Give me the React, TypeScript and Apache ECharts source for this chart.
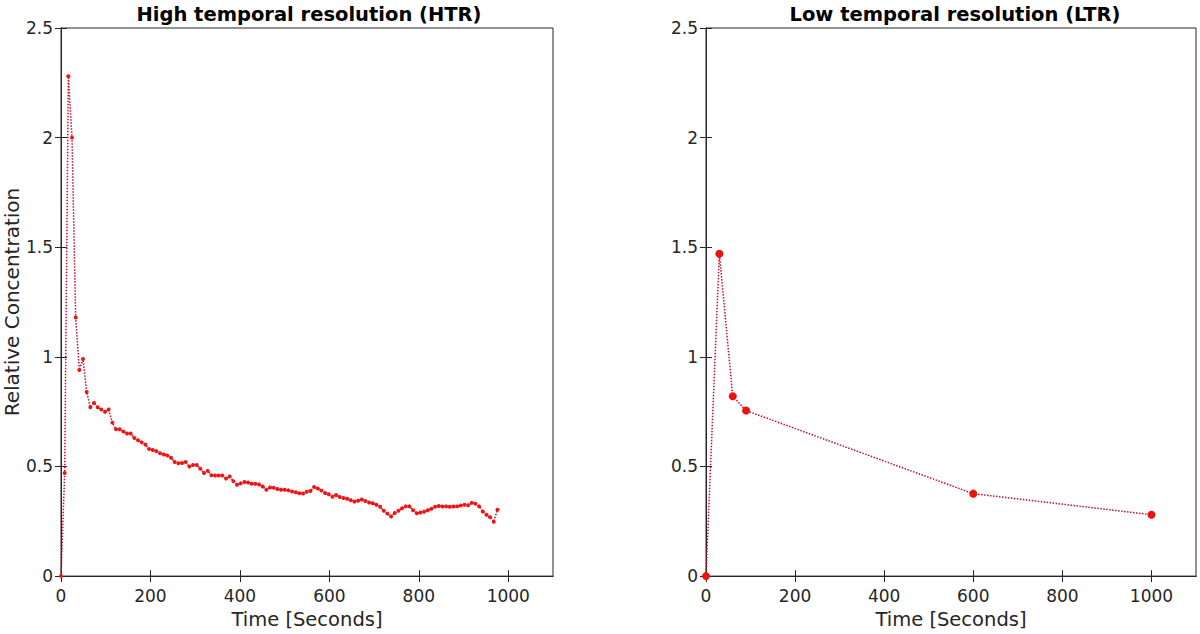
import React, { useEffect, useRef } from "react";
import * as echarts from "echarts";

// High temporal resolution (HTR) samples
const htrTime = [
  0, 8.2, 16.4, 24.6, 32.8, 41, 49.2, 57.4, 65.6, 73.8,
  82, 90.2, 98.4, 106.6, 114.8, 123, 131.2, 139.4, 147.6, 155.8,
  164, 172.2, 180.4, 188.6, 196.8, 205, 213.2, 221.4, 229.6, 237.8,
  246, 254.2, 262.4, 270.6, 278.8, 287, 295.2, 303.4, 311.6, 319.8,
  328, 336.2, 344.4, 352.6, 360.8, 369, 377.2, 385.4, 393.6, 401.8,
  410, 418.2, 426.4, 434.6, 442.8, 451, 459.2, 467.4, 475.6, 483.8,
  492, 500.2, 508.4, 516.6, 524.8, 533, 541.2, 549.4, 557.6, 565.8,
  574, 582.2, 590.4, 598.6, 606.8, 615, 623.2, 631.4, 639.6, 647.8,
  656, 664.2, 672.4, 680.6, 688.8, 697, 705.2, 713.4, 721.6, 729.8,
  738, 746.2, 754.4, 762.6, 770.8, 779, 787.2, 795.4, 803.6, 811.8,
  820, 828.2, 836.4, 844.6, 852.8, 861, 869.2, 877.4, 885.6, 893.8,
  902, 910.2, 918.4, 926.6, 934.8, 943, 951.2, 959.4, 967.6, 975.8,
];
const htrConc = [
  0, 0.47, 2.28, 2.0, 1.18, 0.94, 0.99, 0.84, 0.77, 0.79,
  0.77, 0.76, 0.75, 0.76, 0.7, 0.67, 0.67, 0.66, 0.65, 0.65,
  0.63, 0.62, 0.61, 0.6, 0.58, 0.575, 0.57, 0.56, 0.555, 0.55,
  0.54, 0.52, 0.515, 0.516, 0.52, 0.5, 0.507, 0.507, 0.49, 0.47,
  0.48, 0.46, 0.459, 0.459, 0.459, 0.445, 0.454, 0.433, 0.417, 0.423,
  0.429, 0.427, 0.421, 0.421, 0.418, 0.409, 0.394, 0.404, 0.403, 0.397,
  0.394, 0.394, 0.391, 0.386, 0.382, 0.378, 0.377, 0.385, 0.388, 0.406,
  0.4, 0.39, 0.379, 0.373, 0.362, 0.37, 0.361, 0.356, 0.353, 0.346,
  0.34, 0.344, 0.349, 0.343, 0.336, 0.332, 0.325, 0.316, 0.298, 0.285,
  0.272, 0.288, 0.298, 0.309, 0.318, 0.318, 0.3, 0.287, 0.29, 0.294,
  0.3, 0.307, 0.316, 0.32, 0.317, 0.318, 0.316, 0.317, 0.318, 0.322,
  0.325, 0.323, 0.334, 0.33, 0.318, 0.295, 0.28, 0.268, 0.248, 0.303,
];

// Low temporal resolution (LTR) samples
const ltrTime = [0, 30, 60, 90, 600, 1000];
const ltrConc = [0, 1.47, 0.82, 0.755, 0.376, 0.28];

const xTicks = [0, 200, 400, 600, 800, 1000];
const yTicks = [0, 0.5, 1, 1.5, 2, 2.5];

const titles = ["High temporal resolution (HTR)", "Low temporal resolution (LTR)"];
const xName = "Time [Seconds]";
const yName = "Relative Concentration";

const FONT = "DejaVu Sans";
const AX = "#262626";

export default function App() {
  const ref = useRef<HTMLDivElement>(null);
  useEffect(() => {
    if (!ref.current) return;
    const chart = echarts.init(ref.current, null, { renderer: "svg" });

    const grids = [
      { left: 61, top: 28, width: 492, height: 551 },
      { left: 706, top: 28, width: 490, height: 551 },
    ];

    const xAxes: any[] = [];
    const yAxes: any[] = [];
    grids.forEach((_, gi) => {
      const base = {
        gridIndex: gi,
        type: "value",
        min: 0,
        max: 1100,
        interval: 200,
        splitLine: { show: false },
        axisLine: { show: true, lineStyle: { color: AX, width: 1 } },
        axisTick: {
          show: true,
          inside: true,
          length: 6,
          customValues: xTicks,
          lineStyle: { color: AX },
        },
      };
      xAxes.push({
        ...base,
        position: "bottom",
        name: xName,
        nameLocation: "middle",
        nameGap: 31,
        nameTextStyle: { fontFamily: FONT, fontSize: 19.5, color: AX },
        axisLabel: {
          show: true,
          fontFamily: FONT,
          fontSize: 17,
          color: AX,
          margin: 11,
          customValues: xTicks,
          formatter: (v: number) => String(v),
        },
      });
      xAxes.push({
        ...base,
        position: "top",
        axisLabel: { show: false },
      });
      const ybase = {
        gridIndex: gi,
        type: "value",
        min: 0,
        max: 2.5,
        interval: 0.5,
        splitLine: { show: false },
        axisLine: { show: true, lineStyle: { color: AX, width: 1 } },
        axisTick: {
          show: true,
          inside: true,
          length: 6,
          customValues: yTicks,
          lineStyle: { color: AX },
        },
      };
      yAxes.push({
        ...ybase,
        position: "left",
        name: gi === 0 ? yName : "",
        nameLocation: "middle",
        nameGap: 37,
        nameTextStyle: { fontFamily: FONT, fontSize: 20, color: AX },
        axisLabel: {
          show: true,
          fontFamily: FONT,
          fontSize: 17,
          color: AX,
          margin: 8,
          customValues: yTicks,
          formatter: (v: number) => String(v),
        },
      });
      yAxes.push({
        ...ybase,
        position: "right",
        axisLabel: { show: false },
      });
    });

    const htrData = htrTime.map((t, i) => [t, htrConc[i]]);
    const ltrData = ltrTime.map((t, i) => [t, ltrConc[i]]);

    chart.setOption({
      animation: false,
      backgroundColor: "#ffffff",
      title: titles.map((t, i) => ({
        text: t,
        left: i === 0 ? 304 : 950,
        top: -1,
        textAlign: "center",
        textStyle: { fontFamily: FONT, fontSize: 19.5, fontWeight: "bold", color: "#000" },
      })),
      grid: grids.map((g) => ({ ...g, show: true, borderColor: AX, borderWidth: 1 })),
      xAxis: xAxes,
      yAxis: yAxes,
      series: [
        {
          type: "line",
          xAxisIndex: 0,
          yAxisIndex: 0,
          data: htrData,
          symbol: "circle",
          symbolSize: 4,
          itemStyle: { color: "#f01414" },
          lineStyle: { color: "#c0102a", width: 1.5, type: [1.5, 1.5] },
        },
        {
          type: "line",
          xAxisIndex: 2,
          yAxisIndex: 2,
          data: ltrData,
          symbol: "circle",
          symbolSize: 8,
          itemStyle: { color: "#f01010" },
          lineStyle: { color: "#c0102a", width: 1.5, type: [1.5, 1.5] },
        },
      ],
    });
    return () => chart.dispose();
  }, []);
  return (
    <div
      ref={ref}
      style={{ position: "fixed", left: 0, top: 0, width: 1200, height: 634, background: "#fff" }}
    />
  );
}
